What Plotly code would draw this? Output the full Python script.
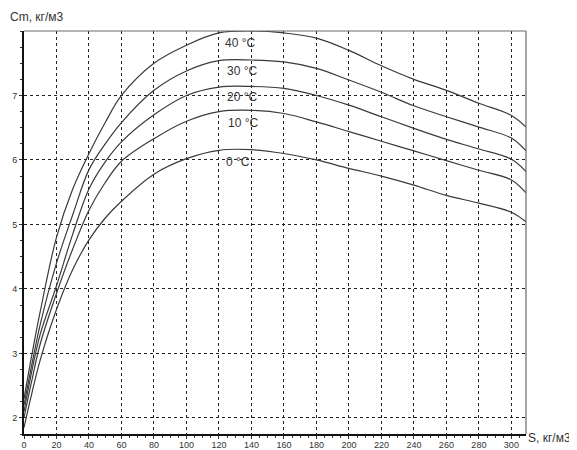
import plotly.graph_objects as go

# Data
s_values = [0, 5, 10, 20, 30, 40, 50, 60, 80, 100, 120, 140, 160, 180, 200, 220, 240, 260, 280, 300, 309]

cm_40 = [2.3, 3.0, 3.65, 4.8, 5.55, 6.1, 6.58, 7.0, 7.5, 7.78, 7.97, 8.0, 7.97, 7.89, 7.70, 7.46, 7.25, 7.08, 6.88, 6.69, 6.51]
cm_30 = [2.2, 2.85, 3.45, 4.4, 5.15, 5.85, 6.25, 6.58, 7.08, 7.38, 7.54, 7.55, 7.52, 7.42, 7.24, 7.05, 6.84, 6.67, 6.51, 6.34, 6.14]
cm_20 = [2.1, 2.75, 3.3, 4.05, 4.85, 5.55, 5.97, 6.28, 6.7, 7.0, 7.13, 7.14, 7.11, 7.0, 6.85, 6.67, 6.49, 6.32, 6.17, 6.01, 5.82]
cm_10 = [2.0, 2.6, 3.15, 3.93, 4.62, 5.22, 5.65, 5.98, 6.33, 6.6, 6.75, 6.77, 6.72, 6.59, 6.44, 6.29, 6.14, 5.99, 5.84, 5.69, 5.49]
cm_0 = [1.85, 2.4, 2.9, 3.68, 4.3, 4.76, 5.1, 5.36, 5.78, 6.02, 6.15, 6.16, 6.10, 6.0, 5.87, 5.75, 5.61, 5.45, 5.33, 5.19, 5.04]

series = [cm_40, cm_30, cm_20, cm_10, cm_0]
labels = ["40 °C", "30 °C", "20 °C", "10 °C", "0 °C"]
label_x = [133, 134, 134, 135, 132]
label_y = [7.82, 7.38, 6.98, 6.57, 5.97]

x_ticks = list(range(0, 301, 20))
y_ticks = [2, 3, 4, 5, 6, 7]

FONT = "Liberation Sans, Arial, sans-serif"

fig = go.Figure()
for ys in series:
    fig.add_trace(go.Scatter(
        x=s_values, y=ys, mode="lines",
        line=dict(color="#3a3a3a", width=1.2, shape="spline", smoothing=1.0),
        showlegend=False, hoverinfo="skip", cliponaxis=True,
    ))

for txt, lx, ly in zip(labels, label_x, label_y):
    fig.add_annotation(x=lx, y=ly, text=txt, showarrow=False,
                       xanchor="center", yanchor="middle",
                       font=dict(family=FONT, size=12, color="#333333"))

fig.add_annotation(xref="paper", yref="paper", x=-0.031, y=1.035, text="Cm, кг/м3",
                   showarrow=False, xanchor="left", yanchor="middle",
                   font=dict(family=FONT, size=12, color="#333333"))
fig.add_annotation(xref="paper", yref="paper", x=1.0, y=-0.01, text="S, кг/м3",
                   showarrow=False, xanchor="left", yanchor="middle",
                   font=dict(family=FONT, size=12, color="#333333"))

# top and right border (thin grey)
fig.add_shape(type="line", xref="paper", yref="paper", x0=0, x1=1, y0=1, y1=1,
              line=dict(color="#6a6a6a", width=1.2))
fig.add_shape(type="line", xref="paper", yref="paper", x0=1, x1=1, y0=0, y1=1,
              line=dict(color="#6a6a6a", width=1.2))

fig.update_xaxes(
    range=[0, 309], tickvals=x_ticks, ticktext=[str(v) for v in x_ticks],
    showgrid=True, gridcolor="#222222", griddash="dot", gridwidth=1,
    zeroline=False, showline=True, linecolor="#111111", linewidth=2,
    ticks="outside", ticklen=3, tickcolor="#333333",
    tickfont=dict(family=FONT, size=9, color="#333333"),
    ticklabelstandoff=-2,
    minor=dict(dtick=5, ticks="outside", ticklen=2, tickcolor="#333333", showgrid=False),
    automargin=False,
)
fig.update_yaxes(
    range=[1.75, 8.0], tickvals=y_ticks, ticktext=[str(v) for v in y_ticks],
    showgrid=True, gridcolor="#222222", griddash="dot", gridwidth=1,
    zeroline=False, showline=True, linecolor="#111111", linewidth=2,
    ticks="outside", ticklen=3, tickcolor="#333333",
    tickfont=dict(family=FONT, size=9, color="#333333"),
    minor=dict(dtick=0.25, ticks="outside", ticklen=2, tickcolor="#333333", showgrid=False),
    automargin=False,
)

# page body has an 8px margin, so the figure is sized to fill the rest of the window
fig.update_layout(
    width=569, height=442,
    margin=dict(l=16, r=51, t=23, b=16, pad=0),
    paper_bgcolor="white", plot_bgcolor="white",
)

fig.write_html("out.html")
